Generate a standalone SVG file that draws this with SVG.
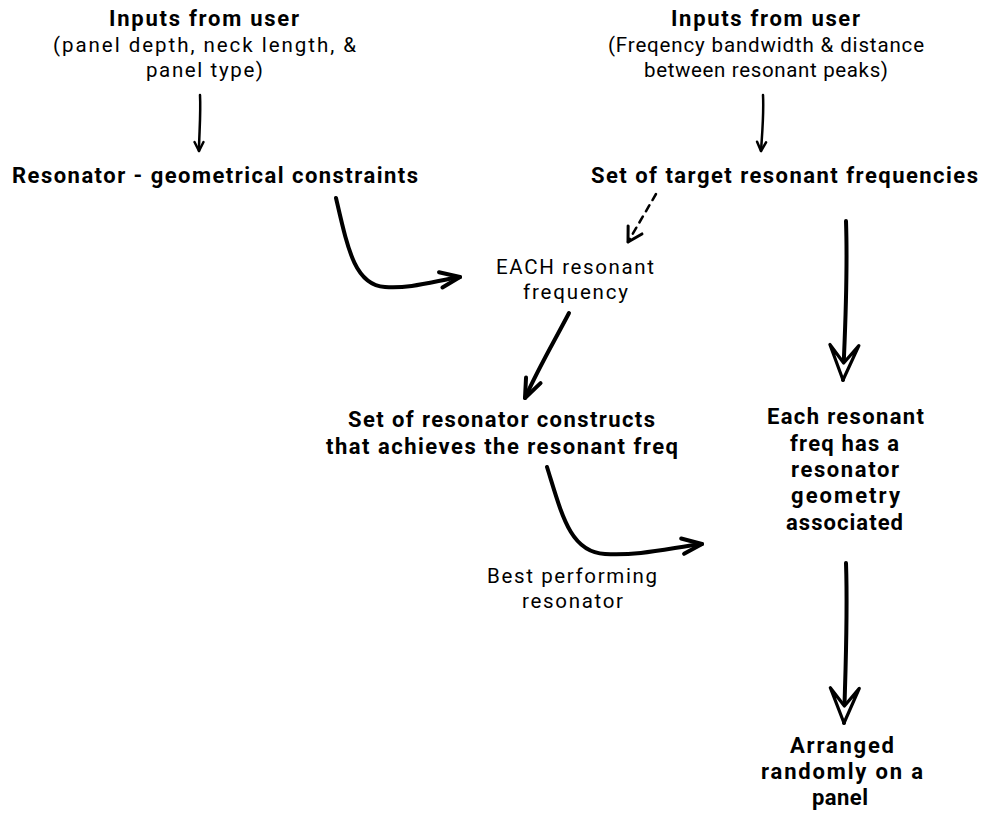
<svg xmlns="http://www.w3.org/2000/svg" width="982" height="814" viewBox="0 0 982 814">
  <style>
    text { font-family: Roboto, "Liberation Sans", sans-serif; fill: #000; text-anchor: middle; }
    .b { font-weight: 700; font-size: 22px; }
    .r { font-weight: 400; font-size: 20.5px; }
    .thin { fill: none; stroke: #000; stroke-width: 2.5; stroke-linecap: round; }
    .dash { fill: none; stroke: #000; stroke-width: 2.5; stroke-linecap: round; stroke-dasharray: 7 6; }
    .thick { fill: none; stroke: #000; stroke-width: 4; stroke-linecap: round; }
  </style>
  <defs>
    <!-- open chevron heads in three weights, and a notched hollow head -->
    <marker id="chev-s" markerUnits="userSpaceOnUse" orient="auto" markerWidth="30" markerHeight="30" refX="0" refY="0" viewBox="-15 -15 30 30" overflow="visible">
      <path d="M-9,-4.5 L0,0 L-9,4.5" fill="none" stroke="#000" stroke-width="2.5" stroke-linecap="round" stroke-linejoin="round"/>
    </marker>
    <marker id="chev-m" markerUnits="userSpaceOnUse" orient="auto" markerWidth="40" markerHeight="40" refX="0" refY="0" viewBox="-20 -20 40 40" overflow="visible">
      <path d="M-14,-8 L0,0 L-14,8" fill="none" stroke="#000" stroke-width="3" stroke-linecap="round" stroke-linejoin="round"/>
    </marker>
    <marker id="chev-l" markerUnits="userSpaceOnUse" orient="auto" markerWidth="50" markerHeight="50" refX="0" refY="0" viewBox="-25 -25 50 50" overflow="visible">
      <path d="M-20,-8 L0,0 L-19,7.5" fill="none" stroke="#000" stroke-width="4" stroke-linecap="round" stroke-linejoin="round"/>
    </marker>
    <marker id="hollow" markerUnits="userSpaceOnUse" orient="auto" markerWidth="80" markerHeight="80" refX="0" refY="0" viewBox="-40 -40 80 80" overflow="visible">
      <path d="M0,0 L-35,-14.5 L-17,0 L-35,14.5 Z" fill="#fff" stroke="#000" stroke-width="3.2" stroke-linejoin="round"/>
    </marker>
  </defs>

  <g id="connectors">
    <path class="thin" d="M200,95 C201,115 199,135 199,151" marker-end="url(#chev-s)"/>
    <path class="thin" d="M763,95 C764,115 762,135 761,151" marker-end="url(#chev-s)"/>
    <path class="dash" d="M656,194 L628,242" marker-end="url(#chev-m)"/>
    <path class="thick" d="M336,198 C348,250 355,285 385,287 C410,289 435,281 460,277" marker-end="url(#chev-l)"/>
    <path class="thick" d="M569,313 C555,340 540,365 525,398" marker-end="url(#chev-l)"/>
    <path class="thick" d="M547,467 C562,515 570,552 605,554 C640,556 670,548 702,544" marker-end="url(#chev-l)"/>
    <path class="thick" d="M846,221 C848,280 845,330 843,380" marker-end="url(#hollow)"/>
    <path class="thick" d="M846,563 C848,620 845,680 844,723" marker-end="url(#hollow)"/>
  </g>

  <g id="inputs-geometry">
    <text class="b" x="204" y="26" textLength="190" lengthAdjust="spacing">Inputs from user</text>
    <text class="r"><tspan x="204.5" y="52" textLength="303" lengthAdjust="spacing">(panel depth, neck length, &amp;</tspan><tspan x="204.5" y="77" textLength="117" lengthAdjust="spacing">panel type)</tspan></text>
  </g>
  <g id="inputs-frequency">
    <text class="b" x="765.5" y="26" textLength="189" lengthAdjust="spacing">Inputs from user</text>
    <text class="r"><tspan x="766" y="52" textLength="316" lengthAdjust="spacing">(Freqency bandwidth &amp; distance</tspan><tspan x="766" y="77" textLength="244" lengthAdjust="spacing">between resonant peaks)</tspan></text>
  </g>
  <g id="geometric-constraints">
    <text class="b" x="215" y="183" textLength="406" lengthAdjust="spacing">Resonator - geometrical constraints</text>
  </g>
  <g id="target-frequencies">
    <text class="b" x="784.5" y="183" textLength="387" lengthAdjust="spacing">Set of target resonant frequencies</text>
  </g>
  <g id="each-frequency">
    <text class="r"><tspan x="575" y="274" textLength="158" lengthAdjust="spacing">EACH resonant</tspan><tspan x="575.5" y="299" textLength="105" lengthAdjust="spacing">frequency</tspan></text>
  </g>
  <g id="resonator-constructs">
    <text class="b"><tspan x="501.5" y="427" textLength="307" lengthAdjust="spacing">Set of resonator constructs</tspan><tspan x="502" y="454" textLength="352" lengthAdjust="spacing">that achieves the resonant freq</tspan></text>
  </g>
  <g id="best-resonator">
    <text class="r"><tspan x="572" y="583" textLength="170" lengthAdjust="spacing">Best performing</tspan><tspan x="572.5" y="608" textLength="101" lengthAdjust="spacing">resonator</tspan></text>
  </g>
  <g id="geometry-assigned">
    <text class="b"><tspan x="845.5" y="424" textLength="157" lengthAdjust="spacing">Each resonant</tspan><tspan x="844.5" y="451" textLength="109" lengthAdjust="spacing">freq has a</tspan><tspan x="845" y="477" textLength="108" lengthAdjust="spacing">resonator</tspan><tspan x="845.5" y="503" textLength="109" lengthAdjust="spacing">geometry</tspan><tspan x="844.5" y="530" textLength="117" lengthAdjust="spacing">associated</tspan></text>
  </g>
  <g id="panel-layout">
    <text class="b"><tspan x="842" y="753" textLength="104" lengthAdjust="spacing">Arranged</tspan><tspan x="842" y="779" textLength="162" lengthAdjust="spacing">randomly on a</tspan><tspan x="840" y="805" textLength="56" lengthAdjust="spacing">panel</tspan></text>
  </g>
</svg>
